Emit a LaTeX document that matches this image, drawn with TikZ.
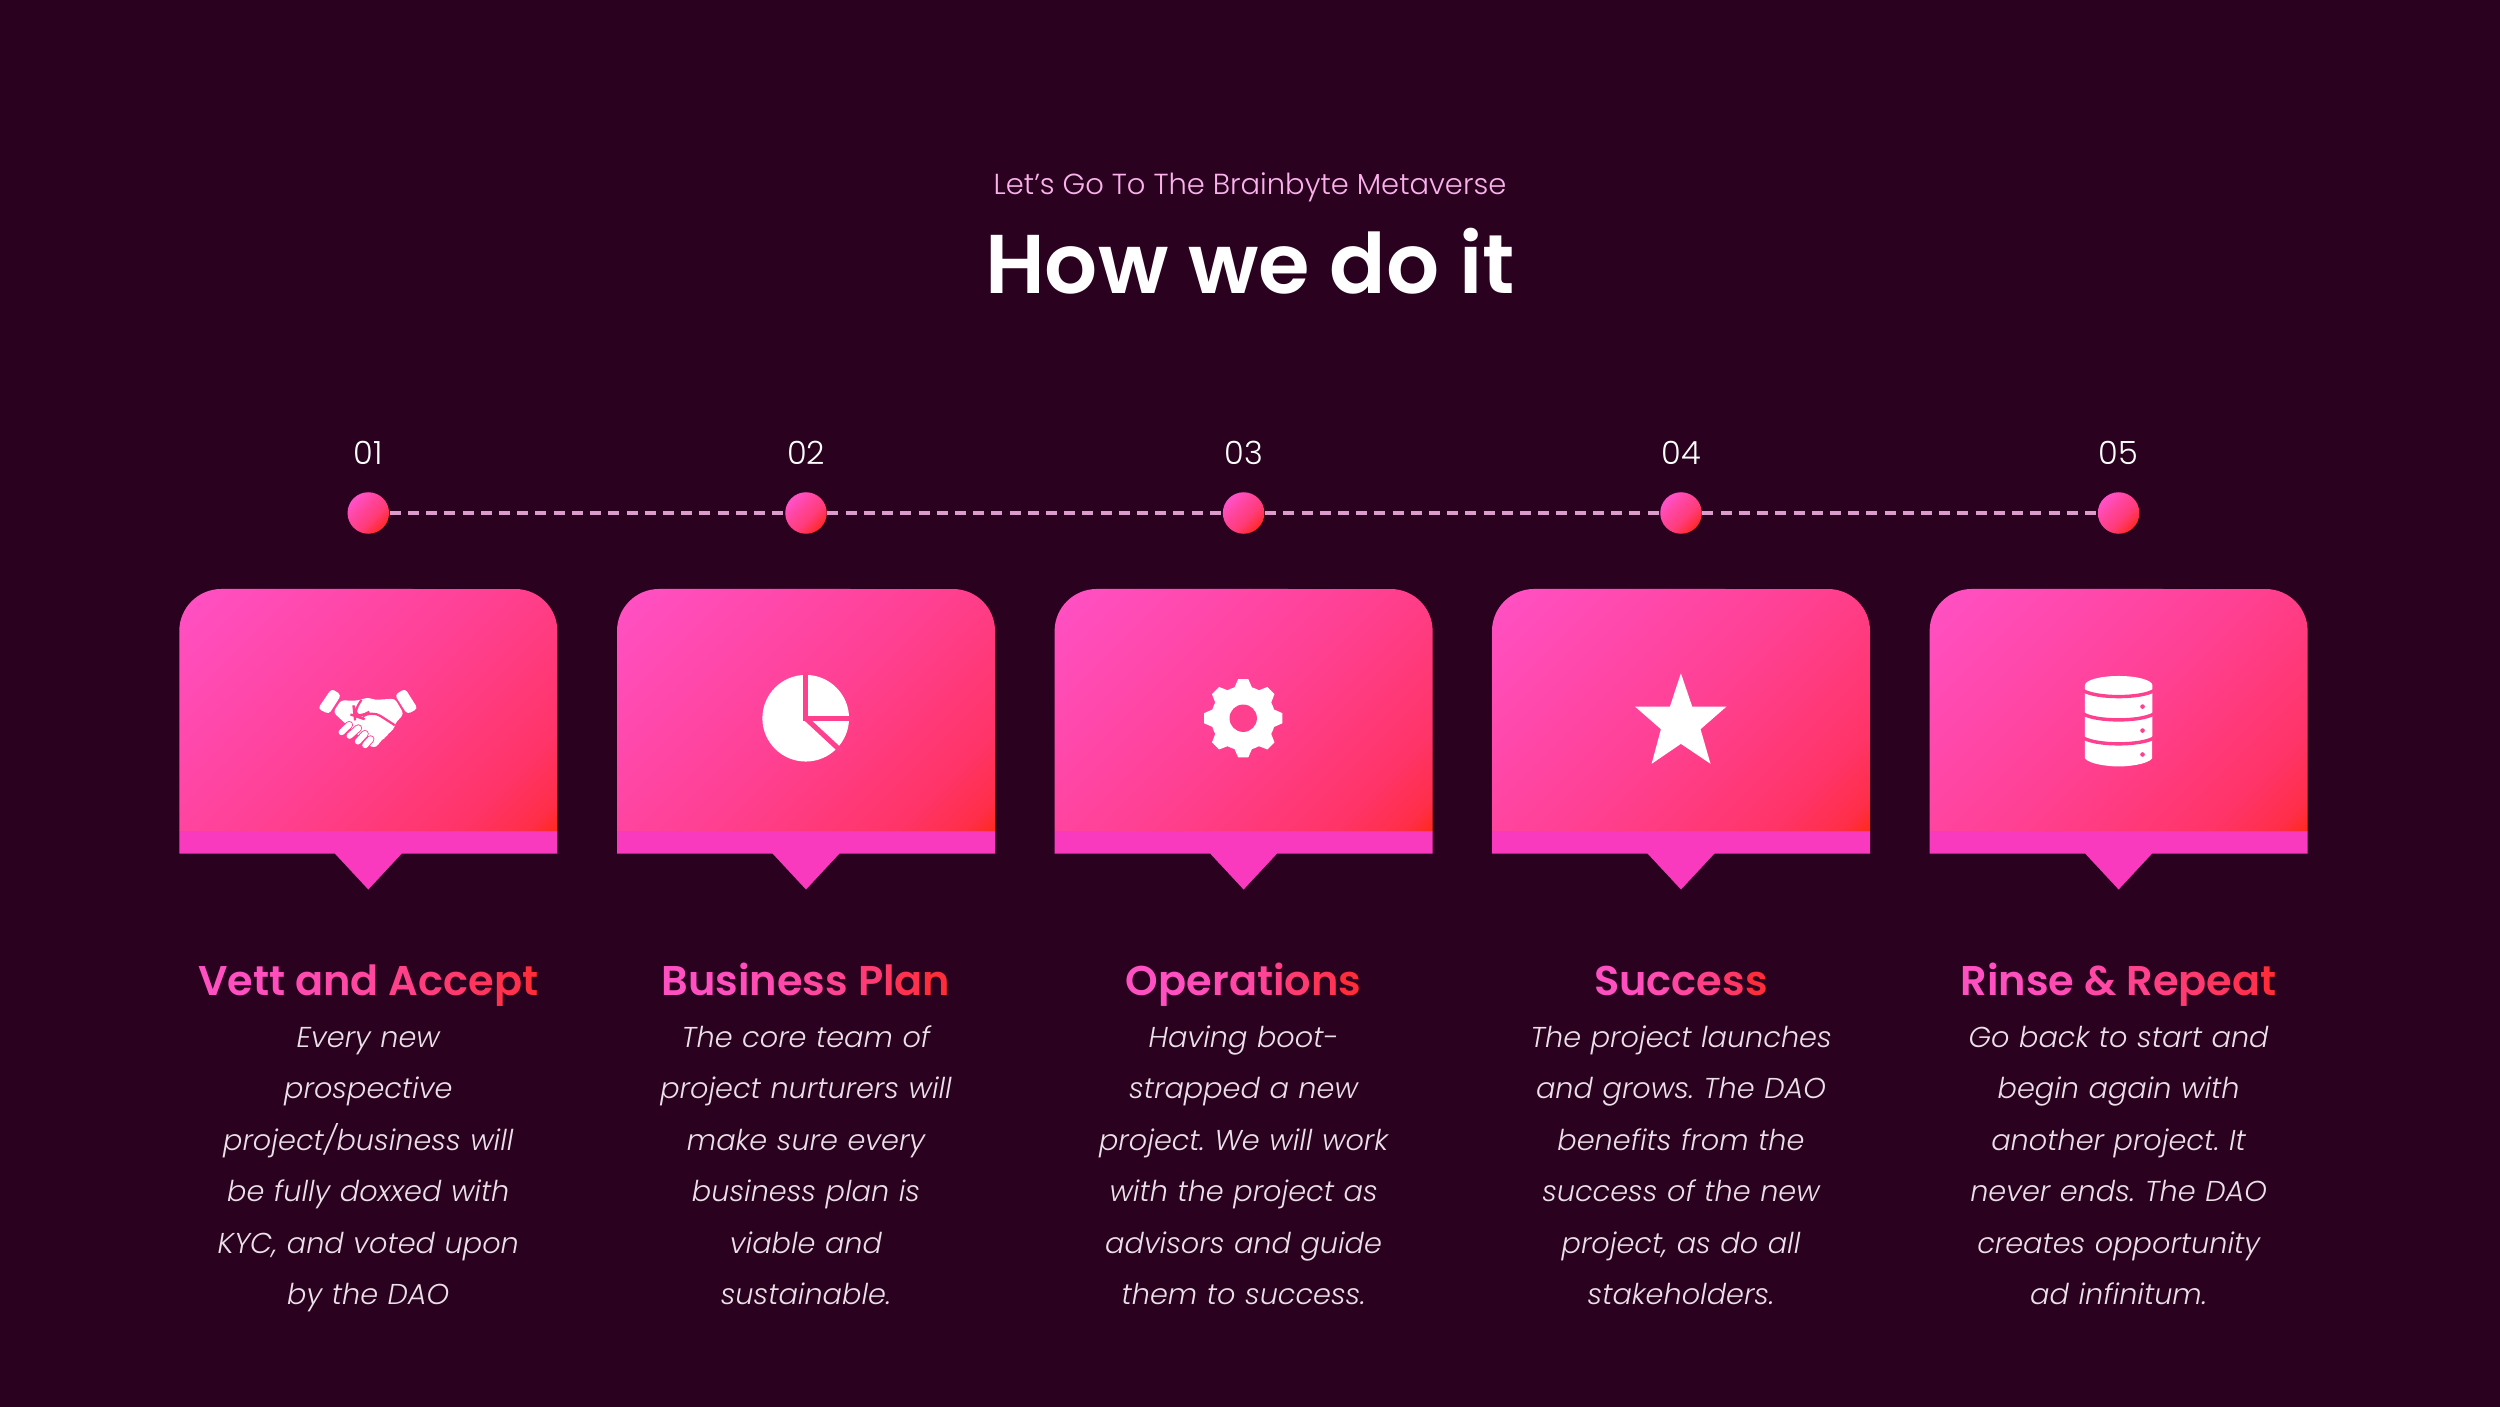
\documentclass[tikz,border=0pt]{standalone}
\usepackage{fontspec}
\setmainfont{Poppins}
\newfontfamily\popsb{Poppins SemiBold}
\newfontfamily\popl{Poppins Light}
\newfontfamily\popli{Poppins Light Italic}
\definecolor{bgc}{HTML}{2A0220}
\definecolor{bandc}{HTML}{F93ABF}
\definecolor{dashc}{HTML}{DC9CCB}
\definecolor{subc}{HTML}{FBB2EC}
\definecolor{bodyc}{HTML}{EBE0E8}
\definecolor{icobg}{HTML}{FF408F}
\pgfdeclareverticalshading{cardgrad}{100bp}{color(0bp)=(rgb,255:red,255;green,40;blue,20);color(14bp)=(rgb,255:red,255;green,40;blue,20);color(18bp)=(rgb,255:red,255;green,46;blue,72);color(26bp)=(rgb,255:red,255;green,52;blue,104);color(50bp)=(rgb,255:red,255;green,65;blue,149);color(85bp)=(rgb,255:red,255;green,80;blue,196);color(100bp)=(rgb,255:red,255;green,80;blue,196)}
\pgfdeclareverticalshading{dotgrad}{100bp}{color(0bp)=(rgb,255:red,255;green,42;blue,48);color(27bp)=(rgb,255:red,255;green,42;blue,48);color(42bp)=(rgb,255:red,255;green,60;blue,120);color(60bp)=(rgb,255:red,255;green,70;blue,160);color(73bp)=(rgb,255:red,255;green,80;blue,196);color(100bp)=(rgb,255:red,255;green,80;blue,196)}
\newcommand{\glet}[2]{\pgfmathtruncatemacro\gv{80-36*#1}\pgfmathtruncatemacro\bv{194-136*#1}\definecolor{lc}{RGB}{255,\gv,\bv}\textcolor{lc}{#2}}
\tikzset{
 x=0.01cm,y=-0.01cm,
 stepnum/.style={text=white,font=\popl\fontsize{9.1pt}{10pt}\selectfont,anchor=center,inner sep=0},
 head/.style={font=\popsb\fontsize{11.8pt}{13pt}\selectfont,anchor=base,inner sep=0},
 bodyt/.style={text=bodyc,font=\popli\fontsize{8.17pt}{14.67pt}\selectfont\frenchspacing,align=center,anchor=base,inner sep=0,text width=3.9cm},
 dot/.style={circle,minimum size=0.415cm,inner sep=0,shading=dotgrad,shading angle=45},
 zoomed/.style={x=0.003333cm,y=-0.003333cm},
 gap/.style={draw=icobg,line cap=butt}
}
\begin{document}
\begin{tikzpicture}
\useasboundingbox (0,0) rectangle (2500,1406);
\fill[bgc] (-10,-10) rectangle (2510,1416);
\node[text=subc,font=\popl\fontsize{8.24pt}{10pt}\selectfont,inner sep=0] (sub) at (1250,187) {Let’s Go To The Brainbyte Metaverse};
\node[text=white,font=\popsb\fontsize{23.7pt}{26pt}\selectfont,inner sep=0] (title) at (1250,261) {How we do it};
% dots and connectors
\foreach \i/\x/\n in {1/368.3/01,2/806/02,3/1243.6/03,4/1681/04,5/2118.6/05}{
  \node[stepnum] (num\i) at (\x,453) {\n};
  \node[dot] (dot\i) at (\x,513) {};
}
\foreach \a/\b in {1/2,2/3,3/4,4/5}
  \draw[dashc,line width=0.033cm,dash pattern=on 0.11cm off 0.072cm] (dot\a.east) -- (dot\b.west);
% cards
\foreach \x in {368.3,806,1243.6,1681,2118.6}{
\begin{scope}[shift={(\x,0)}]
  \fill[bandc] (-189,831) -- (189,831) -- (189,853.5) -- (33.5,853.5) -- (0,889.5) -- (-33.5,853.5) -- (-189,853.5) -- cycle;
  \shade[shading=cardgrad,shading angle=45] (-189,831) -- (-189,631) arc[start angle=180,end angle=90,radius=0.42cm] -- (147,589) arc[start angle=90,end angle=0,radius=0.42cm] -- (189,831) -- cycle;
\end{scope}
}
\node[head] (head1) at (368.3,995) {\glet{0}{V}\glet{.01}{e}\glet{.02}{t}\glet{.05}{t} \glet{.13}{a}\glet{.18}{n}\glet{.25}{d} \glet{.41}{A}\glet{.51}{c}\glet{.62}{c}\glet{.73}{e}\glet{.86}{p}\glet{1}{t}};
\node[head] (head2) at (806,995) {\glet{0}{B}\glet{.01}{u}\glet{.03}{s}\glet{.06}{i}\glet{.11}{n}\glet{.17}{e}\glet{.25}{s}\glet{.34}{s} \glet{.56}{P}\glet{.69}{l}\glet{.84}{a}\glet{1}{n}};
\node[head] (head3) at (1243.6,995) {\glet{0}{O}\glet{.01}{p}\glet{.05}{e}\glet{.11}{r}\glet{.2}{a}\glet{.31}{t}\glet{.44}{i}\glet{.6}{o}\glet{.79}{n}\glet{1}{s}};
\node[head] (head4) at (1681,995) {\glet{0}{S}\glet{.03}{u}\glet{.11}{c}\glet{.25}{c}\glet{.44}{e}\glet{.69}{s}\glet{1}{s}};
\node[head] (head5) at (2118.6,995) {\glet{0}{R}\glet{.01}{i}\glet{.02}{n}\glet{.05}{s}\glet{.09}{e} \glet{.21}{\&} \glet{.38}{R}\glet{.48}{e}\glet{.59}{p}\glet{.72}{e}\glet{.85}{a}\glet{1}{t}};
% handshake
\begin{scope}[shift={(280,650)},zoomed]
 \fill[white,rounded corners=1pt] (155,116) -- (184,135) -- (147,193) -- (114,176) -- cycle;
 \fill[white,rounded corners=1pt] (376,116) -- (345,135) -- (382,193) -- (414,176) -- cycle;
 \fill[white,rounded corners=1pt] (184,150) -- (215,153) -- (243,150) -- (262,142) -- (285,150) -- (345,146) -- (372,192) -- (345,222) -- (342,240) -- (325,250) -- (318,264) -- (305,268) -- (297,285) -- (280,295) -- (268,285) -- (190,215) -- (160,187) -- cycle;
 \draw[gap,line width=0.022cm,rounded corners=3pt] (245,150) -- (222,180) -- (224,198) -- (242,204) -- (275,181) -- (345,226);
 \foreach \ax/\ay/\bx/\by in {185/247/208/225,209/258/235/235,234/275/255/252,256/286/272/268}{
   \draw[icobg,line width=0.078cm,line cap=round] (\ax,\ay) -- (\bx,\by);
 }
 \foreach \ax/\ay/\bx/\by in {185/247/208/225,209/258/235/235,234/275/255/252,256/286/272/268}{
   \draw[white,line width=0.06cm,line cap=round] (\ax,\ay) -- (\bx,\by);
 }
\end{scope}
% pie
\begin{scope}[shift={(730,650)},zoomed]
 \fill[white] (227.5,205) circle[radius=0.433cm];
 \draw[gap,line width=0.05cm] (227.5,65) -- (227.5,205) -- (370,205);
 \draw[gap,line width=0.05cm] (225,203) -- (335,305);
\end{scope}
% gear
\begin{scope}[shift={(1170,650)},zoomed]
 \fill[white] (220,205) circle[radius=0.32cm];
 \foreach \a in {0,45,...,315}{
   \fill[white] ([shift={(220,205)}]\a-19:0.30cm) -- ([shift={(220,205)}]\a-7.3:0.395cm) -- ([shift={(220,205)}]\a+7.3:0.395cm) -- ([shift={(220,205)}]\a+19:0.30cm) -- cycle;
 }
 \fill[icobg] (220,205) circle[radius=0.137cm];
\end{scope}
% star
\begin{scope}[shift={(1610,650)},zoomed]
 \fill[white] (213,70) -- (247,170) -- (350,170) -- (272,238) -- (302,342) -- (213,282) -- (125,342) -- (153,238) -- (75,170) -- (180,170) -- cycle;
\end{scope}
% database
\begin{scope}[shift={(2040,650)},zoomed]
 \fill[white] (135,106) arc[x radius=0.337cm,y radius=0.093cm,start angle=180,end angle=0] -- (337,326) .. controls (320,345) and (260,350) .. (236,350) .. controls (212,350) and (152,345) .. (135,326) -- cycle;
 \foreach \yy in {122,192,264}{
   \draw[gap,line width=0.034cm] (130,\yy) .. controls (170,\yy+24) and (302,\yy+24) .. (342,\yy);
 }
 \foreach \yy in {170,242,314}{
   \fill[icobg] (308,\yy) circle[radius=0.023cm];
 }
\end{scope}
\node[bodyt] (b1) at (368.3,1047) {Every new\\prospective\\project/business will\\be fully doxxed with\\KYC, and voted upon\\by the DAO};
\node[bodyt] (b2) at (806,1047) {The core team of\\project nurturers will\\make sure every\\business plan is\\viable and\\sustainable.};
\node[bodyt] (b3) at (1243.6,1047) {Having boot-\\strapped a new\\project. We will work\\with the project as\\advisors and guide\\them to success.};
\node[bodyt] (b4) at (1681,1047) {The project launches\\and grows. The DAO\\benefits from the\\success of the new\\project, as do all\\stakeholders.};
\node[bodyt] (b5) at (2118.6,1047) {Go back to start and\\begin again with\\another project. It\\never ends. The DAO\\creates opportunity\\ad infinitum.};
\end{tikzpicture}
\end{document}
